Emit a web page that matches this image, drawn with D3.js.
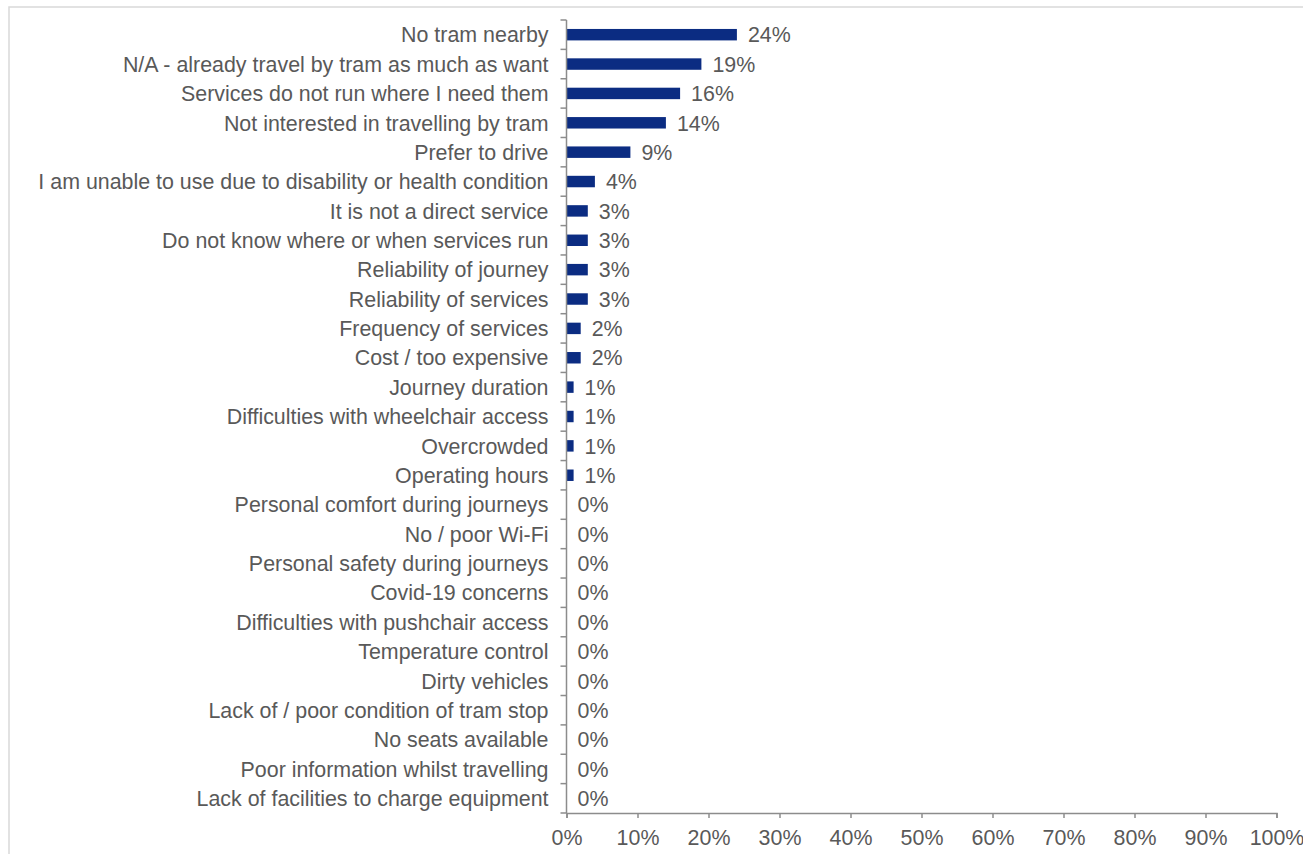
<!DOCTYPE html>
<html>
<head>
<meta charset="utf-8">
<script src="https://cdn.jsdelivr.net/npm/d3@7"></script>
<style>
  html, body { margin: 0; padding: 0; background: #fff; }
  svg { display: block; font-family: "Liberation Sans", Arial, sans-serif; }
</style>
</head>
<body>
<svg id="chart" width="1303" height="854"></svg>
<script>
// Reasons for not travelling by tram (share of respondents)
const categories = [
  "No tram nearby",
  "N/A - already travel by tram as much as want",
  "Services do not run where I need them",
  "Not interested in travelling by tram",
  "Prefer to drive",
  "I am unable to use due to disability or health condition",
  "It is not a direct service",
  "Do not know where or when services run",
  "Reliability of journey",
  "Reliability of services",
  "Frequency of services",
  "Cost / too expensive",
  "Journey duration",
  "Difficulties with wheelchair access",
  "Overcrowded",
  "Operating hours",
  "Personal comfort during journeys",
  "No / poor Wi-Fi",
  "Personal safety during journeys",
  "Covid-19 concerns",
  "Difficulties with pushchair access",
  "Temperature control",
  "Dirty vehicles",
  "Lack of / poor condition of tram stop",
  "No seats available",
  "Poor information whilst travelling",
  "Lack of facilities to charge equipment"
];
const values = [24, 19, 16, 14, 9, 4, 3, 3, 3, 3, 2, 2, 1, 1, 1, 1, 0, 0, 0, 0, 0, 0, 0, 0, 0, 0, 0];
const xTicks = [0, 10, 20, 30, 40, 50, 60, 70, 80, 90, 100];

const svg = d3.select("#chart");
const textColor = "#595959";
const axisColor = "#8c8c8c";
const barColor = "#0b2c82";
const fontSize = 21.4;

// chart frame
svg.append("rect")
  .attr("x", 9).attr("y", 7)
  .attr("width", 1310).attr("height", 860)
  .attr("fill", "none")
  .attr("stroke", "#d9d9d9")
  .attr("stroke-width", 1.5);

const plot = { left: 566.5, right: 1276.5, top: 20, bottom: 813 };

const x = d3.scaleLinear().domain([0, 100]).range([plot.left, plot.right]);
const y = d3.scaleBand().domain(categories).range([plot.top, plot.bottom]).paddingInner(0.61).paddingOuter(0.305);
const yBand = d3.scaleBand().domain(categories).range([plot.top, plot.bottom]);

// bars
svg.append("g").selectAll("rect")
  .data(categories)
  .join("rect")
  .attr("x", x(0))
  .attr("y", d => y(d))
  .attr("width", (d, i) => x(values[i]) - x(0))
  .attr("height", y.bandwidth())
  .attr("fill", barColor);

// value labels
svg.append("g").selectAll("text")
  .data(categories)
  .join("text")
  .attr("x", (d, i) => x(values[i]) + 11)
  .attr("y", d => yBand(d) + yBand.bandwidth() / 2)
  .attr("dy", "0.36em")
  .attr("fill", textColor)
  .attr("font-size", fontSize)
  .text((d, i) => values[i] + "%");

// category axis
const yAxisG = svg.append("g")
  .attr("transform", `translate(${plot.left},0)`);
yAxisG.append("line")
  .attr("x1", 0).attr("x2", 0)
  .attr("y1", plot.top).attr("y2", plot.bottom)
  .attr("stroke", axisColor).attr("stroke-width", 1.5);
const boundaries = categories.map(d => yBand(d)).concat([plot.bottom]);
yAxisG.selectAll("line.tick")
  .data(boundaries)
  .join("line")
  .attr("class", "tick")
  .attr("x1", -6).attr("x2", 0)
  .attr("y1", d => d).attr("y2", d => d)
  .attr("stroke", axisColor).attr("stroke-width", 1.5);
yAxisG.selectAll("text")
  .data(categories)
  .join("text")
  .attr("x", -18)
  .attr("y", d => yBand(d) + yBand.bandwidth() / 2)
  .attr("dy", "0.36em")
  .attr("text-anchor", "end")
  .attr("fill", textColor)
  .attr("font-size", fontSize)
  .text(d => d);

// value axis
const xAxis = d3.axisBottom(x)
  .tickValues(xTicks)
  .tickFormat(d => d + "%")
  .tickSize(5)
  .tickPadding(12);
const xAxisG = svg.append("g")
  .attr("transform", `translate(0,${plot.bottom})`)
  .call(xAxis);
xAxisG.select(".domain").attr("stroke", axisColor).attr("stroke-width", 1.5);
xAxisG.selectAll(".tick line").attr("stroke", axisColor).attr("stroke-width", 1.5);
xAxisG.selectAll(".tick text")
  .attr("fill", textColor)
  .attr("font-size", fontSize)
  .attr("font-family", "Liberation Sans, Arial, sans-serif");
</script>
</body>
</html>
